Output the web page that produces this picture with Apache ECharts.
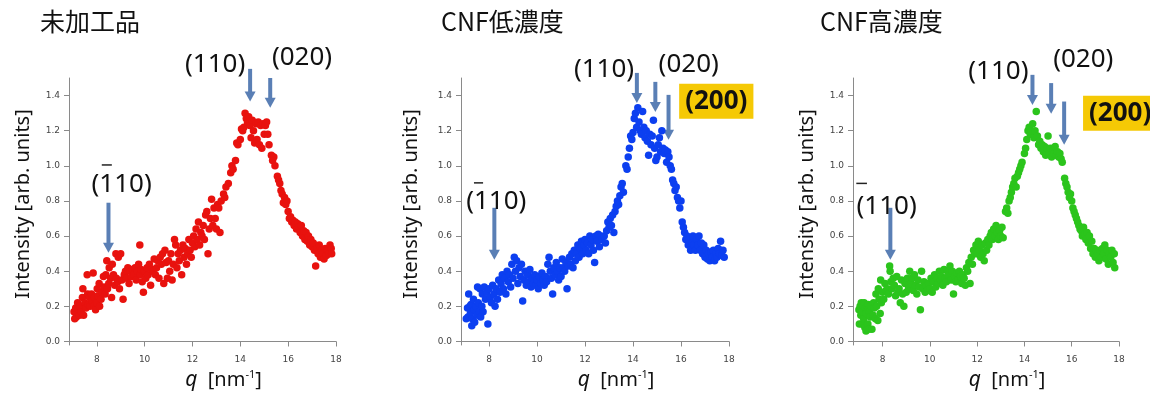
<!DOCTYPE html>
<html>
<head>
<meta charset="utf-8">
<script src="https://cdn.jsdelivr.net/npm/echarts@6/dist/echarts.min.js"></script>
<style>
  html, body { margin: 0; background: #fff; }
  #chart { width: 1150px; height: 403px; }
</style>
</head>
<body>
<div id="chart"></div>
<script>
const titles = ['未加工品', 'CNF低濃度', 'CNF高濃度'];
const xTicks = [8, 10, 12, 14, 16, 18];
const yTicks = [0, 0.2, 0.4, 0.6, 0.8, 1.0, 1.2, 1.4];

// q [nm-1], intensity [arb. units]
const untreated = [
  [7.05,0.17],[7.08,0.13],[7.12,0.19],[7.15,0.14],[7.2,0.22],[7.22,0.16],[7.28,0.15],[7.3,0.2],[7.35,0.17],[7.4,0.25],
  [7.42,0.3],[7.45,0.15],[7.5,0.22],[7.55,0.19],[7.6,0.38],[7.62,0.27],[7.65,0.21],[7.7,0.25],[7.72,0.2],[7.78,0.27],
  [7.8,0.23],[7.85,0.39],[7.88,0.2],[7.9,0.25],[7.95,0.18],[8.0,0.22],[8.02,0.3],[8.05,0.26],[8.1,0.33],[8.12,0.2],
  [8.18,0.24],[8.22,0.28],[8.28,0.37],[8.3,0.31],[8.35,0.27],[8.38,0.38],[8.42,0.46],[8.45,0.3],[8.5,0.33],[8.52,0.42],
  [8.58,0.36],[8.62,0.25],[8.65,0.44],[8.7,0.38],[8.75,0.32],[8.8,0.5],[8.82,0.36],[8.88,0.34],[8.9,0.48],[8.95,0.3],
  [9.0,0.5],[9.05,0.35],[9.1,0.24],[9.15,0.38],[9.2,0.4],[9.25,0.36],[9.3,0.42],[9.35,0.33],[9.4,0.4],[9.45,0.37],
  [9.5,0.41],[9.55,0.38],[9.6,0.42],[9.65,0.35],[9.7,0.4],[9.75,0.44],[9.8,0.55],[9.82,0.38],[9.85,0.41],[9.9,0.34],
  [9.95,0.28],[10.0,0.4],[10.05,0.36],[10.1,0.42],[10.15,0.38],[10.2,0.44],[10.25,0.32],[10.3,0.41],[10.35,0.4],[10.4,0.47],
  [10.45,0.38],[10.5,0.42],[10.55,0.46],[10.6,0.36],[10.65,0.48],[10.7,0.44],[10.75,0.5],[10.8,0.33],[10.85,0.52],[10.9,0.45],
  [10.95,0.36],[11.0,0.46],[11.05,0.4],[11.1,0.5],[11.15,0.35],[11.2,0.44],[11.25,0.58],[11.3,0.55],[11.35,0.42],[11.4,0.5],
  [11.45,0.46],[11.5,0.52],[11.55,0.38],[11.6,0.55],[11.65,0.48],[11.7,0.53],[11.75,0.44],[11.8,0.5],[11.85,0.58],[11.9,0.52],
  [11.95,0.48],[12.0,0.56],[12.05,0.6],[12.1,0.54],[12.15,0.64],[12.2,0.58],[12.25,0.68],[12.3,0.55],[12.35,0.62],[12.4,0.6],
  [12.45,0.66],[12.5,0.58],[12.55,0.72],[12.6,0.74],[12.65,0.5],[12.7,0.64],[12.75,0.7],[12.8,0.81],[12.85,0.66],[12.9,0.76],
  [12.95,0.7],[13.0,0.64],[13.05,0.78],[13.1,0.76],[13.15,0.62],[13.2,0.8],[13.3,0.84],[13.35,0.82],[13.4,0.88],[13.5,0.9],
  [13.6,0.96],[13.65,1.0],[13.7,0.98],[13.8,1.03],[13.85,1.13],[13.9,1.12],[14.0,1.15],[14.05,1.21],[14.1,1.2],[14.15,1.22],
  [14.2,1.3],[14.25,1.27],[14.3,1.25],[14.35,1.28],[14.4,1.23],[14.45,1.16],[14.5,1.26],[14.55,1.2],[14.6,1.13],[14.65,1.24],
  [14.7,1.15],[14.75,1.25],[14.8,1.12],[14.85,1.23],[14.9,1.1],[14.95,1.24],[15.0,1.18],[15.05,1.23],[15.1,1.25],[15.15,1.18],
  [15.2,1.12],[15.3,1.06],[15.35,1.03],[15.4,1.05],[15.45,1.0],[15.55,0.94],[15.6,0.92],[15.65,0.9],[15.7,0.86],[15.75,0.84],
  [15.8,0.79],[15.85,0.82],[15.9,0.78],[15.95,0.8],[16.0,0.74],[16.05,0.7],[16.1,0.71],[16.15,0.68],[16.2,0.69],[16.25,0.66],
  [16.3,0.68],[16.35,0.64],[16.4,0.67],[16.45,0.65],[16.5,0.62],[16.55,0.66],[16.6,0.6],[16.65,0.63],[16.7,0.58],[16.75,0.62],
  [16.8,0.57],[16.85,0.6],[16.9,0.55],[16.95,0.58],[17.0,0.54],[17.05,0.56],[17.1,0.52],[17.15,0.43],[17.2,0.53],[17.25,0.5],
  [17.3,0.55],[17.35,0.48],[17.4,0.52],[17.45,0.5],[17.5,0.47],[17.55,0.53],[17.6,0.49],[17.65,0.52],[17.7,0.5],[17.75,0.55],
  [17.8,0.53],[17.82,0.5]
];
const cnfLow = [
  [7.05,0.13],[7.1,0.19],[7.12,0.14],[7.15,0.27],[7.2,0.2],[7.22,0.16],[7.25,0.21],[7.28,0.09],[7.3,0.13],[7.35,0.24],
  [7.38,0.18],[7.4,0.11],[7.45,0.2],[7.5,0.15],[7.52,0.31],[7.55,0.22],[7.6,0.17],[7.62,0.3],[7.65,0.14],[7.7,0.2],
  [7.72,0.27],[7.75,0.17],[7.8,0.31],[7.85,0.24],[7.9,0.28],[7.95,0.1],[8.0,0.3],[8.05,0.25],[8.1,0.22],[8.15,0.32],
  [8.2,0.27],[8.25,0.2],[8.3,0.3],[8.35,0.24],[8.4,0.35],[8.45,0.28],[8.5,0.33],[8.55,0.38],[8.6,0.3],[8.65,0.36],
  [8.7,0.27],[8.75,0.4],[8.8,0.34],[8.85,0.38],[8.9,0.31],[8.95,0.44],[9.0,0.36],[9.05,0.48],[9.1,0.4],[9.15,0.46],
  [9.2,0.33],[9.25,0.42],[9.3,0.37],[9.35,0.44],[9.4,0.23],[9.45,0.35],[9.5,0.4],[9.55,0.32],[9.6,0.38],[9.65,0.34],
  [9.7,0.41],[9.75,0.31],[9.8,0.36],[9.85,0.33],[9.9,0.38],[9.95,0.32],[10.0,0.35],[10.05,0.3],[10.1,0.37],[10.15,0.33],
  [10.2,0.39],[10.25,0.35],[10.3,0.32],[10.35,0.37],[10.4,0.34],[10.45,0.44],[10.5,0.48],[10.55,0.4],[10.6,0.36],[10.65,0.27],
  [10.7,0.42],[10.75,0.38],[10.8,0.45],[10.85,0.4],[10.9,0.35],[10.95,0.42],[11.0,0.37],[11.05,0.47],[11.1,0.42],[11.15,0.4],
  [11.2,0.45],[11.25,0.3],[11.3,0.43],[11.35,0.48],[11.4,0.44],[11.45,0.5],[11.5,0.42],[11.55,0.52],[11.6,0.46],[11.65,0.5],
  [11.7,0.55],[11.75,0.48],[11.8,0.53],[11.85,0.57],[11.9,0.5],[11.95,0.55],[12.0,0.58],[12.05,0.52],[12.1,0.56],[12.15,0.5],
  [12.2,0.6],[12.25,0.55],[12.3,0.58],[12.35,0.52],[12.4,0.45],[12.45,0.6],[12.5,0.57],[12.55,0.61],[12.6,0.54],[12.65,0.6],
  [12.7,0.58],[12.8,0.6],[12.85,0.56],[12.9,0.63],[12.95,0.68],[13.0,0.65],[13.05,0.7],[13.1,0.66],[13.15,0.72],[13.2,0.62],
  [13.25,0.74],[13.3,0.77],[13.35,0.8],[13.4,0.78],[13.45,0.83],[13.5,0.88],[13.55,0.9],[13.6,0.85],[13.7,1.0],[13.75,0.98],
  [13.8,1.05],[13.85,1.1],[13.9,1.17],[13.95,1.15],[14.0,1.19],[14.05,1.27],[14.1,1.3],[14.15,1.22],[14.2,1.33],[14.25,1.25],
  [14.3,1.2],[14.35,1.18],[14.4,1.31],[14.45,1.22],[14.5,1.16],[14.55,1.2],[14.6,1.14],[14.65,1.06],[14.7,1.18],[14.75,1.12],
  [14.8,1.17],[14.85,1.26],[14.9,1.1],[14.95,1.03],[15.0,1.05],[15.05,1.12],[15.1,1.16],[15.15,1.08],[15.2,1.2],[15.25,1.1],
  [15.3,1.07],[15.35,1.09],[15.4,1.02],[15.45,1.08],[15.5,1.05],[15.55,1.0],[15.6,0.98],[15.65,0.92],[15.7,0.9],[15.75,0.86],
  [15.8,0.88],[15.85,0.82],[15.9,0.8],[15.95,0.76],[16.0,0.8],[16.05,0.68],[16.1,0.65],[16.15,0.62],[16.2,0.58],[16.25,0.6],
  [16.3,0.55],[16.35,0.58],[16.4,0.52],[16.45,0.56],[16.5,0.6],[16.55,0.55],[16.6,0.52],[16.65,0.58],[16.7,0.55],[16.75,0.6],
  [16.8,0.52],[16.85,0.56],[16.9,0.5],[16.95,0.55],[17.0,0.48],[17.05,0.52],[17.1,0.47],[17.15,0.5],[17.2,0.46],[17.25,0.51],
  [17.3,0.48],[17.35,0.52],[17.4,0.46],[17.45,0.5],[17.5,0.48],[17.55,0.53],[17.6,0.5],[17.65,0.57],[17.7,0.49],[17.75,0.52],
  [17.8,0.48]
];
const cnfHigh = [
  [7.0,0.18],[7.02,0.1],[7.05,0.2],[7.08,0.15],[7.1,0.22],[7.12,0.1],[7.15,0.17],[7.18,0.2],[7.2,0.13],[7.22,0.22],
  [7.25,0.08],[7.28,0.19],[7.3,0.06],[7.32,0.16],[7.35,0.2],[7.38,0.1],[7.4,0.21],[7.42,0.07],[7.45,0.17],[7.48,0.14],
  [7.5,0.2],[7.55,0.07],[7.6,0.15],[7.62,0.22],[7.65,0.19],[7.7,0.13],[7.72,0.27],[7.75,0.2],[7.8,0.12],[7.82,0.3],
  [7.85,0.24],[7.9,0.16],[7.92,0.35],[7.95,0.22],[8.0,0.28],[8.05,0.24],[8.1,0.33],[8.15,0.29],[8.2,0.3],[8.25,0.27],
  [8.3,0.43],[8.32,0.4],[8.35,0.34],[8.4,0.3],[8.45,0.36],[8.5,0.32],[8.55,0.26],[8.6,0.37],[8.65,0.28],[8.7,0.3],
  [8.75,0.22],[8.8,0.35],[8.85,0.27],[8.9,0.2],[8.95,0.33],[9.0,0.28],[9.05,0.36],[9.1,0.3],[9.15,0.4],[9.2,0.33],
  [9.25,0.36],[9.3,0.29],[9.35,0.38],[9.4,0.32],[9.45,0.27],[9.5,0.35],[9.55,0.31],[9.6,0.18],[9.65,0.4],[9.7,0.3],
  [9.75,0.34],[9.8,0.28],[9.85,0.32],[9.9,0.29],[9.95,0.33],[10.0,0.3],[10.05,0.36],[10.1,0.28],[10.15,0.34],[10.2,0.38],
  [10.25,0.31],[10.3,0.36],[10.35,0.33],[10.4,0.4],[10.45,0.35],[10.5,0.37],[10.55,0.32],[10.6,0.41],[10.65,0.36],[10.7,0.34],
  [10.75,0.4],[10.8,0.38],[10.85,0.43],[10.9,0.35],[10.95,0.4],[11.0,0.27],[11.05,0.37],[11.1,0.34],[11.15,0.39],[11.2,0.35],
  [11.25,0.4],[11.3,0.37],[11.35,0.33],[11.4,0.38],[11.45,0.36],[11.5,0.32],[11.55,0.42],[11.6,0.4],[11.65,0.45],[11.7,0.33],
  [11.75,0.48],[11.8,0.44],[11.85,0.52],[11.9,0.5],[11.95,0.55],[12.0,0.5],[12.05,0.57],[12.1,0.52],[12.15,0.48],[12.2,0.55],
  [12.25,0.5],[12.3,0.46],[12.35,0.56],[12.4,0.52],[12.45,0.58],[12.5,0.55],[12.55,0.6],[12.6,0.62],[12.65,0.58],[12.7,0.64],
  [12.75,0.6],[12.8,0.66],[12.85,0.62],[12.9,0.58],[12.95,0.63],[13.0,0.6],[13.05,0.65],[13.1,0.59],[13.2,0.74],[13.25,0.76],
  [13.3,0.73],[13.35,0.8],[13.4,0.82],[13.45,0.85],[13.5,0.88],[13.55,0.9],[13.6,0.93],[13.65,0.88],[13.7,0.94],[13.75,0.96],
  [13.8,0.98],[13.85,1.0],[13.9,1.02],[14.0,1.07],[14.05,1.1],[14.1,1.15],[14.15,1.2],[14.2,1.22],[14.25,1.18],[14.3,1.2],
  [14.35,1.24],[14.4,1.16],[14.45,1.2],[14.5,1.31],[14.55,1.17],[14.6,1.12],[14.65,1.14],[14.7,1.1],[14.75,1.12],[14.8,1.08],
  [14.85,1.11],[14.9,1.06],[14.95,1.1],[15.0,1.17],[15.05,1.07],[15.1,1.1],[15.15,1.05],[15.2,1.09],[15.25,1.07],[15.3,1.11],
  [15.35,1.06],[15.4,1.08],[15.45,1.05],[15.5,1.07],[15.55,1.04],[15.6,1.02],[15.7,0.93],[15.75,0.9],[15.8,0.88],[15.85,0.85],
  [15.9,0.82],[15.95,0.84],[16.0,0.8],[16.05,0.76],[16.1,0.74],[16.15,0.72],[16.2,0.7],[16.25,0.68],[16.3,0.66],[16.35,0.64],
  [16.4,0.63],[16.45,0.6],[16.5,0.65],[16.55,0.61],[16.6,0.58],[16.65,0.62],[16.7,0.56],[16.75,0.6],[16.8,0.53],[16.85,0.57],
  [16.9,0.5],[16.95,0.53],[17.0,0.48],[17.05,0.52],[17.1,0.5],[17.15,0.46],[17.2,0.52],[17.25,0.48],[17.3,0.53],[17.35,0.5],
  [17.4,0.55],[17.45,0.47],[17.5,0.52],[17.55,0.44],[17.6,0.5],[17.65,0.48],[17.7,0.52],[17.75,0.45],[17.8,0.5],[17.82,0.42]
];

// peak arrows: [q, intensity at arrow tail, intensity at arrow tip]
const arrows1 = [[14.41, 1.552, 1.366], [15.25, 1.50, 1.33], [8.49, 0.79, 0.505]];
const arrows2 = [[14.16, 1.529, 1.357], [14.93, 1.478, 1.307], [15.48, 1.404, 1.148], [8.22, 0.761, 0.465]];
const arrows3 = [[14.34, 1.518, 1.347], [15.13, 1.471, 1.296], [15.68, 1.366, 1.12], [8.33, 0.761, 0.465]];
// peak labels: [text, q, intensity]
const labels1 = [['(110)', 12.95, 1.575], ['(020)', 16.58, 1.615], ['(110)', 9.04, 0.892]];
const labels2 = [['(110)', 12.79, 1.546], ['(020)', 16.32, 1.575], ['(110)', 8.30, 0.797]];
const labels3 = [['(110)', 12.9, 1.537], ['(020)', 16.49, 1.603], ['(110)', 8.17, 0.768]];
// bar over the first index of (-110): [q from, q to, intensity]
const bars = [[8.21, 8.63, 1.005], [7.37, 7.75, 0.903], [6.89, 7.34, 0.90]];
// highlighted (200) label: [q, intensity] or null
const boxes = [null, [17.47, 1.367], [18.05, 1.30]];

const panels = [
  { data: untreated, color: '#e8120e', left: 69, width: 267, xMin: 6.84, titleLeft: 40, gap: 36, arrows: arrows1, labels: labels1 },
  { data: cnfLow, color: '#0c3ff0', left: 461, width: 268, xMin: 6.83, titleLeft: 441, gap: 40, arrows: arrows2, labels: labels2 },
  { data: cnfHigh, color: '#2bc41c', left: 853, width: 266, xMin: 6.75, titleLeft: 820, gap: 36, arrows: arrows3, labels: labels3 }
];

const axisGrey = '#8a8a8a';
const tickFont = { color: '#444', fontSize: 9, fontFamily: 'DejaVu Sans' };
const labelFont = 'Noto Sans';

const chart = echarts.init(document.getElementById('chart'));

chart.setOption({
  backgroundColor: '#fff',
  animation: false,
  title: panels.map((p, i) => ({
    text: titles[i],
    left: p.titleLeft,
    top: 9,
    padding: 0,
    textStyle: { fontFamily: 'Noto Sans CJK JP', fontSize: 25, fontWeight: 'normal', color: '#111' }
  })),
  grid: panels.map(p => ({ left: p.left, top: 78, width: p.width, height: 267 })),
  xAxis: panels.map((p, i) => ({
    type: 'value',
    gridIndex: i,
    min: p.xMin,
    max: 18,
    name: '{q|q}  [nm{s|-1}]',
    nameLocation: 'middle',
    nameGap: 24,
    nameTextStyle: {
      fontFamily: labelFont, fontSize: 20, color: '#111', padding: [0, 0, 0, 42],
      rich: {
        q: { fontFamily: labelFont, fontSize: 21, fontStyle: 'italic', color: '#111' },
        s: { fontFamily: labelFont, fontSize: 11, color: '#111', verticalAlign: 'top', lineHeight: 22 }
      }
    },
    axisLine: { lineStyle: { color: axisGrey } },
    axisTick: { length: 5, lineStyle: { color: axisGrey }, customValues: xTicks },
    axisLabel: { ...tickFont, margin: 10, customValues: xTicks },
    splitLine: { show: false }
  })),
  yAxis: panels.map((p, i) => ({
    type: 'value',
    gridIndex: i,
    min: -0.02,
    max: 1.5,
    name: 'Intensity [arb. units]',
    nameLocation: 'middle',
    nameGap: p.gap,
    nameTextStyle: { fontFamily: labelFont, fontSize: 20, color: '#111', padding: [0, 0, 0, 15] },
    axisLine: { show: true, lineStyle: { color: axisGrey } },
    axisTick: { show: true, length: 5, lineStyle: { color: axisGrey }, customValues: yTicks },
    axisLabel: { ...tickFont, margin: 9, customValues: yTicks, formatter: v => v.toFixed(1) },
    splitLine: { show: false }
  })),
  series: panels.map((p, i) => ({
    type: 'scatter',
    xAxisIndex: i,
    yAxisIndex: i,
    symbol: 'circle',
    symbolSize: 7.5,
    itemStyle: { color: p.color, opacity: 1 },
    data: p.data
  }))
});

// annotations placed through the axes' own scales
const arrowColor = '#5a7fb5';
const graphic = [];
panels.forEach((p, i) => {
  const px = pt => chart.convertToPixel({ gridIndex: i }, pt);
  p.arrows.forEach(a => {
    const tail = px([a[0], a[1]]);
    const tip = px([a[0], a[2]]);
    graphic.push({
      type: 'line', silent: true,
      shape: { x1: tail[0], y1: tail[1], x2: tip[0], y2: tip[1] - 8 },
      style: { stroke: arrowColor, lineWidth: 4 }
    });
    graphic.push({
      type: 'polygon', silent: true,
      shape: { points: [[tip[0] - 5.5, tip[1] - 10], [tip[0] + 5.5, tip[1] - 10], [tip[0], tip[1]]] },
      style: { fill: arrowColor }
    });
  });
  p.labels.forEach(l => {
    const c = px([l[1], l[2]]);
    graphic.push({
      type: 'text', silent: true, x: c[0], y: c[1],
      style: { text: l[0], fontFamily: labelFont, fontSize: 26, fill: '#111', align: 'center', verticalAlign: 'middle' }
    });
  });
  const b = bars[i];
  const b1 = px([b[0], b[2]]);
  const b2 = px([b[1], b[2]]);
  graphic.push({
    type: 'line', silent: true,
    shape: { x1: b1[0], y1: b1[1], x2: b2[0], y2: b2[1] },
    style: { stroke: '#222', lineWidth: 1.5 }
  });
  if (boxes[i]) {
    const c = px(boxes[i]);
    graphic.push({
      type: 'text', silent: true, x: c[0], y: c[1],
      style: {
        text: '(200)', fontFamily: labelFont, fontWeight: 'bold', fontSize: 26, fill: '#111',
        align: 'center', verticalAlign: 'middle', backgroundColor: '#f5c905', padding: [5, 6, 4, 6]
      }
    });
  }
});
chart.setOption({ graphic: graphic });
</script>
</body>
</html>
